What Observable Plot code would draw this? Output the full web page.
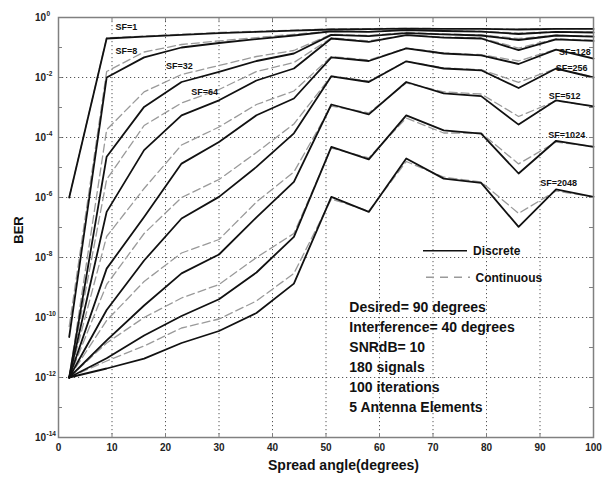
<!DOCTYPE html>
<html><head><meta charset="utf-8">
<script src="https://cdn.jsdelivr.net/npm/d3@7"></script>
<script src="https://cdn.jsdelivr.net/npm/@observablehq/plot@0.6"></script>
<style>
body{margin:0;background:#fff}
#chart{width:612px;height:477px}
</style>
</head><body><div id="chart"></div>
<script>
// Spread angle (degrees) of each sample
const angles = [2, 9, 16, 23, 30, 37, 44, 51, 58, 65, 72, 79, 86, 93, 100];
const sfNames = ["SF=1", "SF=8", "SF=32", "SF=64", "SF=128", "SF=256", "SF=512", "SF=1024", "SF=2048"];

// BER values as log10(BER)
const discreteSF1    = [-6.0, -0.70, -0.64, -0.58, -0.52, -0.48, -0.44, -0.40, -0.39, -0.37, -0.38, -0.38, -0.40, -0.38, -0.38];
const discreteSF8    = [-10.65, -2.0, -1.33, -1.0, -0.85, -0.72, -0.60, -0.46, -0.48, -0.42, -0.45, -0.47, -0.55, -0.48, -0.50];
const discreteSF32   = [-12, -4.64, -2.98, -2.15, -1.81, -1.45, -1.2, -0.58, -0.62, -0.52, -0.56, -0.60, -0.75, -0.60, -0.64];
const discreteSF64   = [-12, -6.48, -4.42, -3.26, -2.76, -2.1, -1.7, -0.70, -0.81, -0.59, -0.67, -0.70, -1.09, -0.73, -0.78];
const discreteSF128  = [-12, -8.37, -6.65, -4.87, -4.15, -3.26, -2.7, -1.33, -1.45, -1.03, -1.2, -1.26, -1.55, -1.07, -1.37];
const discreteSF256  = [-12, -9.75, -8.1, -6.7, -5.98, -4.98, -3.86, -1.96, -2.15, -1.46, -1.70, -1.76, -2.35, -1.70, -2.0];
const discreteSF512  = [-12, -10.76, -9.6, -8.53, -7.9, -6.66, -5.48, -2.9, -3.23, -2.15, -2.53, -2.62, -3.57, -2.76, -2.96];
const discreteSF1024 = [-12, -11.36, -10.6, -9.95, -9.39, -8.5, -7.31, -4.31, -4.73, -3.26, -3.76, -3.87, -5.2, -4.11, -4.31];
const discreteSF2048 = [-12, -11.7, -11.37, -10.85, -10.45, -9.85, -8.87, -5.98, -6.48, -4.70, -5.37, -5.51, -6.98, -5.73, -5.98];

const continuousSF1    = [-6.0, -0.68, -0.62, -0.56, -0.50, -0.46, -0.42, -0.38, -0.37, -0.36, -0.37, -0.37, -0.39, -0.37, -0.37];
const continuousSF8    = [-10.3, -1.8, -1.15, -0.9, -0.78, -0.67, -0.56, -0.45, -0.47, -0.41, -0.44, -0.46, -0.52, -0.47, -0.49];
const continuousSF32   = [-12, -3.74, -2.48, -1.9, -1.6, -1.3, -1.1, -0.56, -0.6, -0.5, -0.55, -0.58, -0.7, -0.59, -0.62];
const continuousSF64   = [-12, -5.4, -3.6, -2.85, -2.4, -1.8, -1.5, -0.68, -0.78, -0.58, -0.65, -0.68, -1.02, -0.71, -0.76];
const continuousSF128  = [-12, -7.3, -5.7, -4.25, -3.65, -2.9, -2.45, -1.3, -1.42, -1.02, -1.18, -1.24, -1.45, -1.06, -1.35];
const continuousSF256  = [-12, -8.9, -7.2, -6.0, -5.4, -4.5, -3.55, -1.95, -2.12, -1.46, -1.68, -1.74, -2.16, -1.70, -1.98];
const continuousSF512  = [-12, -10.1, -8.8, -7.85, -7.4, -6.15, -5.15, -2.95, -3.18, -2.18, -2.48, -2.55, -3.3, -2.78, -2.95];
const continuousSF1024 = [-12, -10.85, -10.0, -9.35, -8.9, -8.0, -7.2, -4.35, -4.68, -3.35, -3.85, -3.85, -4.88, -4.15, -4.3];
const continuousSF2048 = [-12, -11.45, -10.95, -10.35, -10.05, -9.45, -8.53, -6.05, -6.45, -4.8, -5.32, -5.48, -6.53, -5.78, -5.98];

// Axis ticks
const xTickValues = [0, 10, 20, 30, 40, 50, 60, 70, 80, 90, 100];
const yLabelExponents = [0, -2, -4, -6, -8, -10, -12, -14];
const yDecadeExponents = [0, -1, -2, -3, -4, -5, -6, -7, -8, -9, -10, -11, -12, -13, -14];

// Curve label anchors (data coordinates: angle, log10 BER)
const sfLabelAngle = [12.7, 12.7, 22.6, 27.3, 96.5, 95.9, 94.6, 95.0, 93.5];
const sfLabelLog   = [-0.32, -1.12, -1.62, -2.49, -1.16, -1.69, -2.62, -3.92, -5.52];

const annotationLines = ["Desired= 90 degrees", "Interference= 40 degrees", "SNRdB= 10", "180 signals", "100 iterations", "5 Antenna Elements"];

const discreteSeries = [discreteSF1, discreteSF8, discreteSF32, discreteSF64, discreteSF128, discreteSF256, discreteSF512, discreteSF1024, discreteSF2048];
const continuousSeries = [continuousSF1, continuousSF8, continuousSF32, continuousSF64, continuousSF128, continuousSF256, continuousSF512, continuousSF1024, continuousSF2048];

const discreteRows = [], continuousRows = [];
sfNames.forEach((name, i) => {
  angles.forEach((a, j) => {
    discreteRows.push({sf: name, angle: a, ber: Math.pow(10, discreteSeries[i][j])});
    continuousRows.push({sf: name, angle: a, ber: Math.pow(10, continuousSeries[i][j])});
  });
});
const sfLabelRows = sfNames.map((n, i) => ({text: n, angle: sfLabelAngle[i], ber: Math.pow(10, sfLabelLog[i])}));

const FONT = "'Liberation Sans', Arial, Helvetica, sans-serif";
const gridStyle = {stroke: "#555", strokeWidth: 1, strokeDasharray: "1.2,2.8"};

const svg = Plot.plot({
  width: 612, height: 477,
  marginLeft: 58, marginRight: 19, marginTop: 17, marginBottom: 40,
  style: {fontFamily: FONT, background: "#fff", color: "#000"},
  x: {domain: [0, 100], axis: null},
  y: {type: "log", domain: [1e-14, 1], axis: null},
  marks: [
    Plot.ruleX(xTickValues.slice(1, -1), {x: d => d, ...gridStyle}),
    Plot.ruleY(yLabelExponents.slice(1, -1), {y: d => Math.pow(10, d), ...gridStyle}),
    Plot.line(continuousRows, {x: "angle", y: "ber", z: "sf", stroke: "#9a9a9a", strokeWidth: 1.3, strokeDasharray: "8,4"}),
    Plot.line(discreteRows, {x: "angle", y: "ber", z: "sf", stroke: "#111", strokeWidth: 1.8}),
    Plot.frame({stroke: "#808080", strokeWidth: 1.5}),
    // inward ticks
    Plot.ruleX(xTickValues, {x: d => d, insetTop: 416, stroke: "#808080"}),
    Plot.ruleX(xTickValues, {x: d => d, insetBottom: 416, stroke: "#808080"}),
    Plot.ruleY(yDecadeExponents, {y: d => Math.pow(10, d), insetRight: 531, stroke: "#808080"}),
    Plot.ruleY(yDecadeExponents, {y: d => Math.pow(10, d), insetLeft: 531, stroke: "#808080"}),
    // tick labels
    Plot.text(xTickValues, {x: d => d, y: 1e-14, dy: 10, text: d => String(d), fontSize: 10, fontWeight: "bold", fill: "#222"}),
    Plot.text(yLabelExponents, {x: 0, y: d => Math.pow(10, d), dx: -12.5, textAnchor: "end", text: () => "10", fontSize: 10, fontWeight: "bold", fill: "#222"}),
    Plot.text(yLabelExponents, {x: 0, y: d => Math.pow(10, d), dx: -12, dy: -4, textAnchor: "start", text: d => String(d), fontSize: 6.5, fontWeight: "bold", fill: "#222"}),
    // curve labels
    Plot.text(sfLabelRows, {x: "angle", y: "ber", text: "text", fontSize: 9, fontWeight: "bold", fill: "#111"})
  ]
});

const s = d3.select(svg);
const ns = s.append("g").attr("font-family", FONT).attr("font-weight", "bold").attr("fill", "#111").attr("text-anchor", "start");
// axis titles
ns.append("text").attr("x", 268).attr("y", 469.5).attr("font-size", 14).text("Spread angle(degrees)");
ns.append("text").attr("transform", "translate(23,230) rotate(-90)").attr("text-anchor", "middle").attr("font-size", 13).text("BER");
// legend
ns.append("line").attr("x1", 423).attr("x2", 467).attr("y1", 250.7).attr("y2", 250.7).attr("stroke", "#111").attr("stroke-width", 1.5);
ns.append("text").attr("x", 473).attr("y", 255).attr("font-size", 12).text("Discrete");
ns.append("line").attr("x1", 426).attr("x2", 470).attr("y1", 277.3).attr("y2", 277.3).attr("stroke", "#9a9a9a").attr("stroke-width", 1.5).attr("stroke-dasharray", "8,6");
ns.append("text").attr("x", 475.5).attr("y", 281.7).attr("font-size", 12).text("Continuous");
// annotation block
annotationLines.forEach((t, i) => {
  ns.append("text").attr("x", 349.3).attr("y", 311.7 + 20 * i).attr("font-size", 14).text(t);
});

document.getElementById("chart").appendChild(svg);
</script>
</body></html>
